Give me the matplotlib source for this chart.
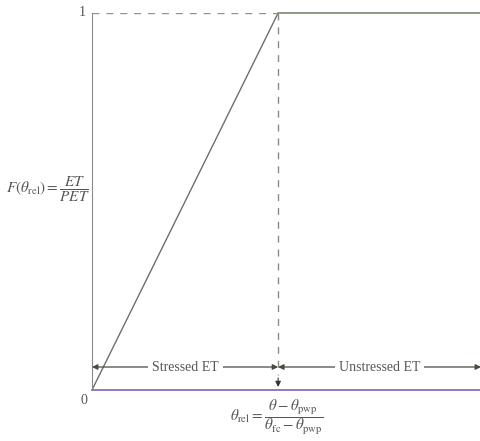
import matplotlib
matplotlib.use("Agg")
import matplotlib.pyplot as plt

plt.rcParams['mathtext.fontset'] = 'stix'
plt.rcParams['font.family'] = ['Liberation Serif', 'DejaVu Serif']

# data
x_break = 1.0          # theta_rel where ET reaches PET
x_max = 2.09
y_ticks = [0, 1]
y_tick_labels = ['0', '1']
ramp_x = [0, x_break]
ramp_y = [0, 1]
flat_x = [x_break, x_max]
flat_y = [1, 1]
region_labels = ['Stressed ET', 'Unstressed ET']

fig = plt.figure(figsize=(4.81, 4.41), dpi=100)
ax = fig.add_axes([92/481, 51/441, (481-92)/481, (428-51)/441])
ax.set_xlim(0, x_max)
ax.set_ylim(0, 1)
for s in ['top', 'right']:
    ax.spines[s].set_visible(False)
ax.spines['left'].set_color('#8a8a8a')
ax.spines['bottom'].set_color('#8c6fb0')
ax.spines['bottom'].set_linewidth(1.3)
ax.set_xticks([])
ax.set_yticks([])

gc = '#555555'
ax.plot(ramp_x, ramp_y, color='#6e6e6e', lw=1.0)
ax.plot(flat_x, flat_y, color='#7a8a6a', lw=1.2, clip_on=False)
ax.plot([0, x_break], [1, 1], color='#8a9a7a', lw=1.0, ls=(0, (5, 5)))
ax.plot([x_break, x_break], [1, 0.04], color='#8a8a8a', lw=1.0, ls=(0, (5, 5)))

# tick labels
ax.text(-0.035, y_ticks[1], y_tick_labels[1], ha='right', va='center', fontsize=10,
        color=gc, clip_on=False)
ax.text(-0.025, y_ticks[0] - 0.027, y_tick_labels[0], ha='right', va='center', fontsize=10,
        color=gc, clip_on=False)

# arrows
ya = 0.061
ap = dict(arrowstyle='-|>', color='#4a4a40', lw=0.9, mutation_scale=8, shrinkA=0, shrinkB=0)
mid1 = x_break / 2
mid2 = (x_break + x_max) / 2
ax.annotate('', xy=(0, ya), xytext=(mid1, ya), arrowprops=ap)
ax.annotate('', xy=(x_break, ya), xytext=(mid1, ya), arrowprops=ap)
ax.annotate('', xy=(x_break, ya), xytext=(mid2, ya), arrowprops=ap)
ax.annotate('', xy=(x_max, ya), xytext=(mid2, ya), arrowprops=ap, annotation_clip=False)
ax.text(mid1, ya, region_labels[0], ha='center', va='center', fontsize=10, color=gc,
        bbox=dict(facecolor='white', edgecolor='none', pad=3))
ax.text(mid2, ya, region_labels[1], ha='center', va='center', fontsize=10, color=gc,
        bbox=dict(facecolor='white', edgecolor='none', pad=3))
ax.annotate('', xy=(x_break, 0.008), xytext=(x_break, 0.032),
            arrowprops=dict(arrowstyle='-|>', color='#333333', lw=0.8, mutation_scale=8,
                            shrinkA=0, shrinkB=0))

# axis labels
fig.text(277/481, 1 - 417/441,
         r'$\theta_{\mathrm{rel}} = \dfrac{\theta - \theta_{\mathrm{pwp}}}{\theta_{\mathrm{fc}} - \theta_{\mathrm{pwp}}}$',
         ha='center', va='center', fontsize=11, color=gc)
fig.text(48/481, 1 - 190/441, r'$F(\theta_{\mathrm{rel}}) = \dfrac{ET}{PET}$',
         ha='center', va='center', fontsize=11, color=gc)

fig.savefig('out.png', dpi=100)
